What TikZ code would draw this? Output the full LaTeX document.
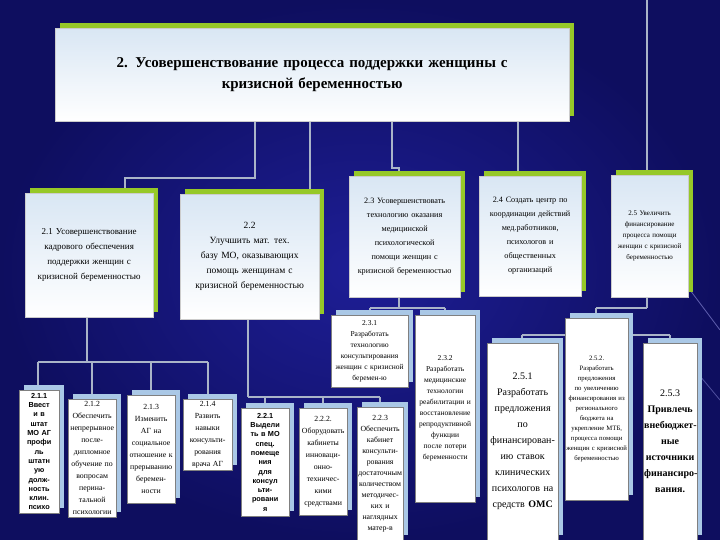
\documentclass[tikz,border=0pt]{standalone}
\usepackage{fontspec}
\setmainfont{Liberation Serif}
\setsansfont{Liberation Sans}
\usetikzlibrary{shadows}
\definecolor{bgdark}{RGB}{14,14,95}
\definecolor{bgmid}{RGB}{30,30,150}
\definecolor{lime}{RGB}{150,200,40}
\definecolor{paleblue}{RGB}{170,200,230}
\definecolor{linec}{RGB}{170,180,200}
\tikzset{
  topbox/.style={fill=white, top color=paleblue!45!white, bottom color=white, draw=white!80!black, line width=0.3pt,
    drop shadow={shadow xshift=5pt, shadow yshift=5pt, fill=lime, opacity=1},
    align=center, inner sep=2pt, font=\fontsize{9.5}{15}\selectfont},
  lowbox/.style={fill=white, draw=gray, line width=0.3pt,
    drop shadow={shadow xshift=5pt, shadow yshift=5pt, fill=paleblue, opacity=1},
    align=center, inner sep=1pt, font=\fontsize{7.8}{12}\selectfont},
  sfbox/.style={lowbox, font=\sffamily\bfseries\fontsize{7.3}{9.3}\selectfont},
  conn/.style={draw=linec, line width=1.3pt},
}
\newcommand{\bx}[7]{\node[#6, anchor=north west, minimum width=#4pt, minimum height=#5pt, text width=#4pt-2pt] (#1) at (#2,#3) {#7};}
\begin{document}
\begin{tikzpicture}[x=1pt,y=-1pt]
\shade[inner color=bgmid, outer color=bgdark] (0,0) rectangle (720,540);
\useasboundingbox (0,0) rectangle (720,540);
\draw[white!70!blue, line width=0.8pt, opacity=0.5] (690,290) -- (720,330);
\draw[white!70!blue, line width=0.8pt, opacity=0.4] (670,340) -- (720,400);
% connector coordinates
\coordinate (t1) at (255,121); \coordinate (t2) at (310,121); \coordinate (t3) at (392,121);
\coordinate (t4) at (518,121); \coordinate (t5) at (647,0);
% connectors top
\draw[conn] (t1) |- (125,178) -- (125,193);
\draw[conn] (t2) -- (310,194);
\draw[conn] (t3) |- (399,168) -- (399,176);
\draw[conn] (t4) -- (518,176);
\draw[conn] (t5) -- (647,175);
% lower connectors
\draw[conn] (87,317) -- (87,362);
\draw[conn] (38,362) -- (208,362);
\foreach \x/\y in {38/390,92/399,151/395,208/399}{\draw[conn] (\x,362) -- (\x,\y);}
\draw[conn] (248,319) -- (248,397);
\draw[conn] (248,397) -- (380,397);
\foreach \x in {265,323,380}{\draw[conn] (\x,397) -- (\x,408);}
\draw[conn] (399,297) -- (399,308);
\draw[conn] (370,308) -- (445,308);
\draw[conn] (370,308) -- (370,315); \draw[conn] (445,308) -- (445,315);
\draw[conn] (647,297) -- (647,308);
\draw[conn] (596,308) -- (647,308);
\draw[conn] (596,308) -- (596,318);
\draw[conn] (522,335) -- (670,335);
\draw[conn] (522,335) -- (522,343); \draw[conn] (670,335) -- (670,343);
% title
\bx{title}{55}{28}{512}{93}{topbox, font=\fontsize{15}{21}\selectfont\bfseries}{2. Усовершенствование процесса поддержки женщины с\\ кризисной беременностью}
% second row
\bx{b21}{25}{193}{126}{124}{topbox, font=\fontsize{9}{15}\selectfont}{2.1 Усовершенствование кадрового обеспечения поддержки женщин с кризисной беременностью}
\bx{b22}{180}{194}{137}{125}{topbox}{2.2\\ Улучшить мат. тех. базу МО, оказывающих помощь женщинам с кризисной беременностью}
\bx{b23}{349}{176}{109}{121}{topbox, font=\fontsize{8.2}{14}\selectfont}{2.3 Усовершенствовать технологию оказания медицинской психологической помощи женщин с кризисной беременностью}
\bx{b24}{479}{176}{100}{120}{topbox, font=\fontsize{8.2}{14}\selectfont}{2.4 Создать центр по координации действий мед.работников, психологов и общественных организаций}
\bx{b25}{611}{175}{75}{122}{topbox, font=\fontsize{7}{11}\selectfont}{2.5 Увеличить финансирование процесса помощи женщин с кризисной беременностью}
% bottom row
\bx{b211}{19}{390}{40}{123}{sfbox}{2.1.1\\ Ввест\\и в\\штат\\МО АГ\\профи\\ль\\штатн\\ую\\долж-\\ность\\клин.\\психо}
\bx{b212}{68}{399}{48}{118}{lowbox}{2.1.2\\ Обеспечить непрерыв\-ное после\-дипломное обучение по вопросам перина\-тальной психологии}
\bx{b213}{127}{395}{48}{108}{lowbox}{2.1.3\\ Изменить АГ на социальное отношение к прерыванию беремен\-ности}
\bx{b214}{183}{399}{49}{71}{lowbox}{2.1.4\\ Развить навыки консульти\-рования врача АГ}
\bx{b221}{241}{408}{48}{108}{sfbox}{2.2.1\\ Выдели\\ть в МО\\спец.\\помеще\\ния\\для\\консул\\ьти-\\ровани\\я}
\bx{b222}{299}{408}{48}{107}{lowbox}{2.2.2.\\ Оборудо\-вать кабинеты инноваци\-онно-техничес\-кими средствами}
\bx{b223}{357}{407}{46}{133}{lowbox, font=\fontsize{7.8}{11}\selectfont}{2.2.3\\ Обеспечить кабинет консульти\-рования достаточ\-ным количест\-вом методичес\-ких и наглядных матер-в}
\bx{b231}{331}{315}{77}{72}{lowbox, font=\fontsize{7.5}{11}\selectfont}{2.3.1\\ Разработать технологию консультирования женщин с кризисной беремен-ю}
\bx{b232}{415}{315}{60}{187}{lowbox, font=\fontsize{7.5}{11}\selectfont}{2.3.2\\ Разработать медицинские технологии реабилитации и восстановление репродуктивной функции после потери беременности}
\bx{b251}{487}{343}{71}{197}{lowbox, font=\fontsize{10}{16}\selectfont}{2.5.1\\ Разработать предложения по финансирован\-ию ставок клинических психологов на средств \textbf{ОМС}}
\bx{b252}{565}{318}{63}{182}{lowbox, font=\fontsize{6.7}{10}\selectfont}{2.5.2.\\ Разработать предложения по увеличению финансирования из регионального бюджета на укрепление МТБ, процесса помощи женщин с кризисной беременностью}
\bx{b253}{643}{343}{54}{197}{lowbox, font=\fontsize{10}{16}\selectfont}{2.5.3\\ \textbf{Привлечь внебюджет\-ные источники финансиро\-вания.}}
\end{tikzpicture}
\end{document}
